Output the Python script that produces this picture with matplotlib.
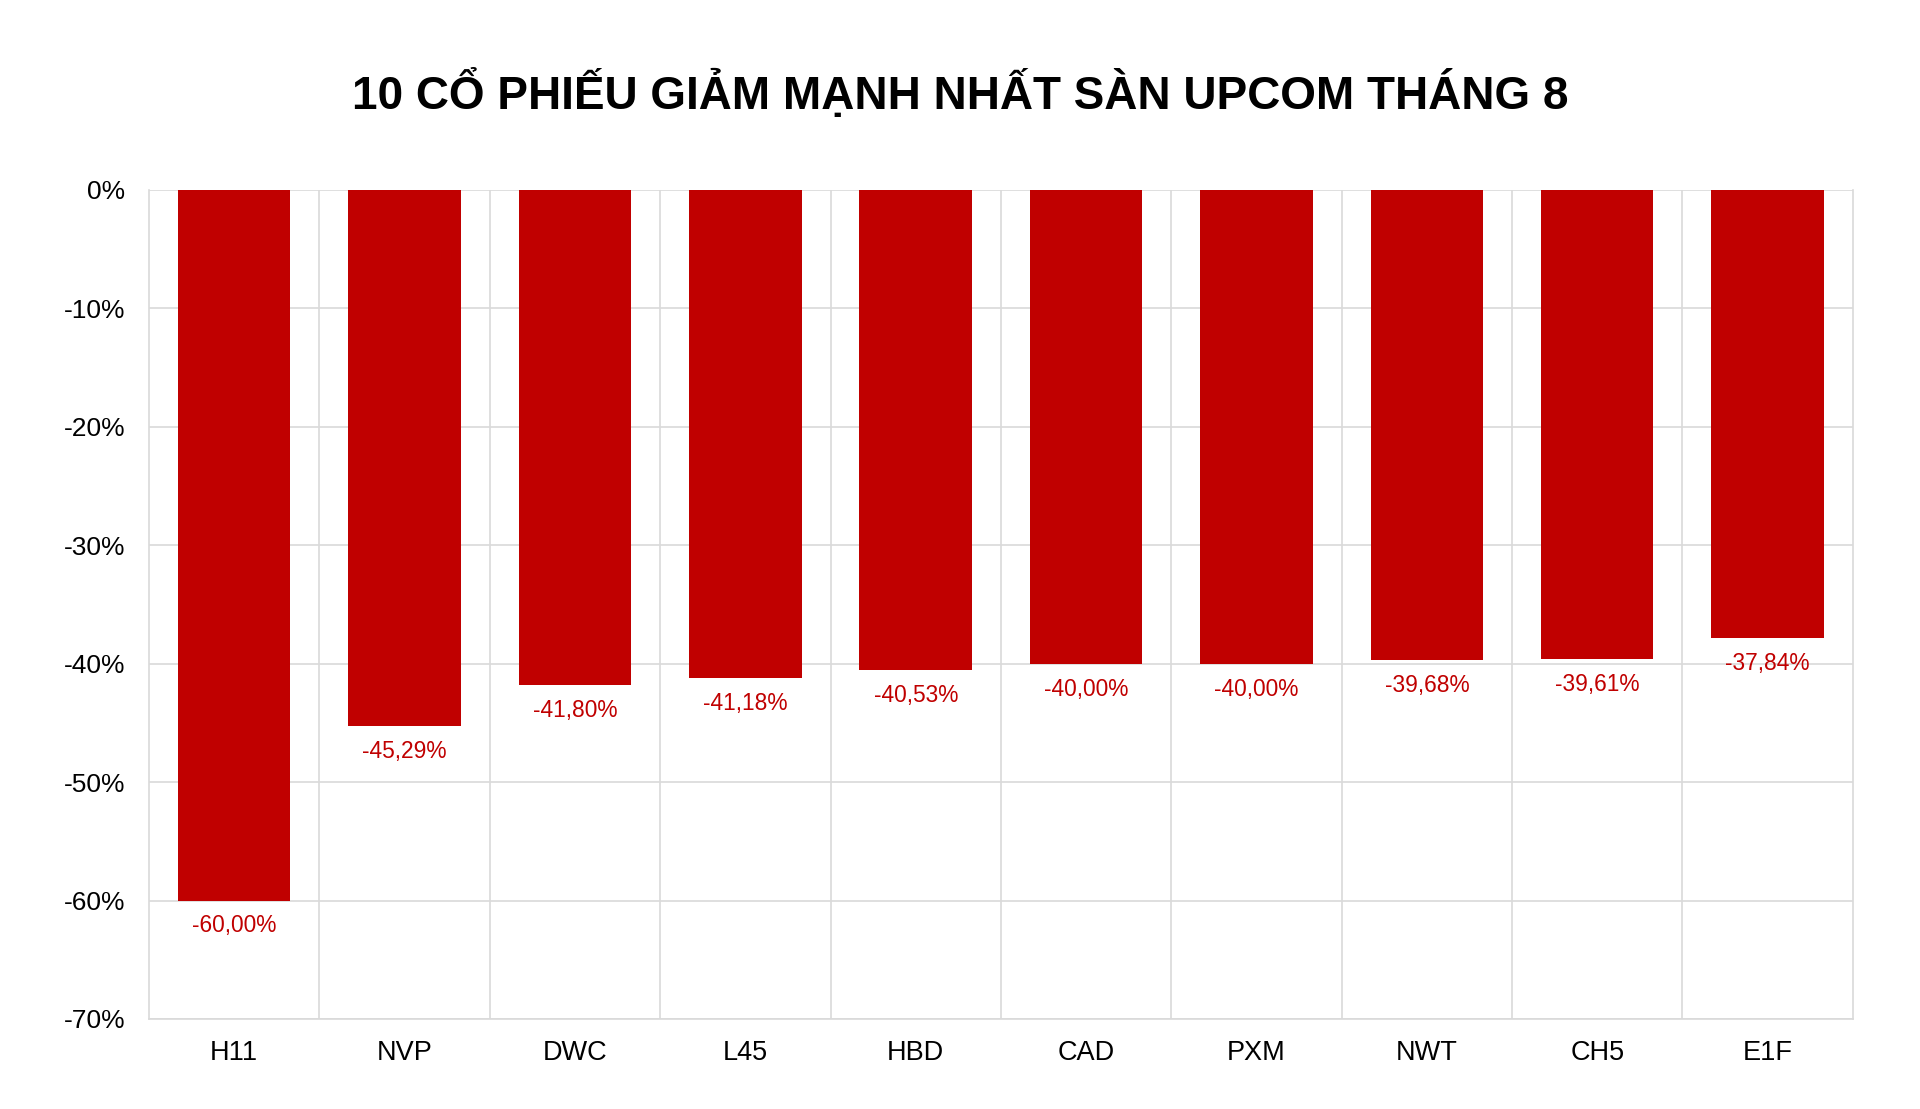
import matplotlib
matplotlib.use("Agg")
import matplotlib.pyplot as plt
from matplotlib.ticker import FixedLocator

plt.rcParams['font.family'] = ['Liberation Sans', 'DejaVu Sans']

title = "10 CỔ PHIẾU GIẢM MẠNH NHẤT SÀN UPCOM THÁNG 8"
tickers = ["H11", "NVP", "DWC", "L45", "HBD", "CAD", "PXM", "NWT", "CH5", "E1F"]
changes = [-60.00, -45.29, -41.80, -41.18, -40.53, -40.00, -40.00, -39.68, -39.61, -37.84]
yticks = [0, -10, -20, -30, -40, -50, -60, -70]

bar_color = "#c00000"
grid_color = "#d9d9d9"

fig = plt.figure(figsize=(19.2, 11.09), dpi=100)
ax = fig.add_axes([0.0776, 0.0812, 0.8874, 0.7475])

x = list(range(len(tickers)))
ax.bar(x, changes, width=0.66, color=bar_color, zorder=3)

ax.set_xlim(-0.5, len(tickers) - 0.5)
ax.set_ylim(-70, 0)
ax.set_yticks(yticks)
ax.set_yticklabels([f"{v}%" for v in yticks], fontsize=19)
ax.set_xticks(x)
ax.set_xticklabels(tickers, fontsize=19.5)
ax.tick_params(axis='both', length=0)
ax.tick_params(axis='y', pad=17)
ax.tick_params(axis='x', pad=15)

ax.xaxis.set_minor_locator(FixedLocator([i + 0.5 for i in range(len(tickers) - 1)]))
ax.tick_params(axis='x', which='minor', length=0)
ax.grid(axis='y', which='major', color=grid_color, linewidth=1.2, zorder=0)
ax.grid(axis='x', which='minor', color=grid_color, linewidth=1.2, zorder=0)
ax.grid(axis='x', which='major', visible=False)

for s in ['left', 'right', 'top', 'bottom']:
    ax.spines[s].set_color(grid_color)
    ax.spines[s].set_linewidth(1.2)
ax.spines['top'].set_visible(False)

for xi, v in zip(x, changes):
    label = f"{v:.2f}%".replace(".", ",")
    ax.annotate(label, (xi, v), xytext=(0, -10), textcoords='offset points',
                ha='center', va='top', fontsize=16.4, color=bar_color, zorder=4)

fig.text(0.5, 0.915, title, ha='center', va='center', fontsize=33,
         fontweight='bold', color='black')

fig.savefig("out.png", dpi=100, facecolor='white')
